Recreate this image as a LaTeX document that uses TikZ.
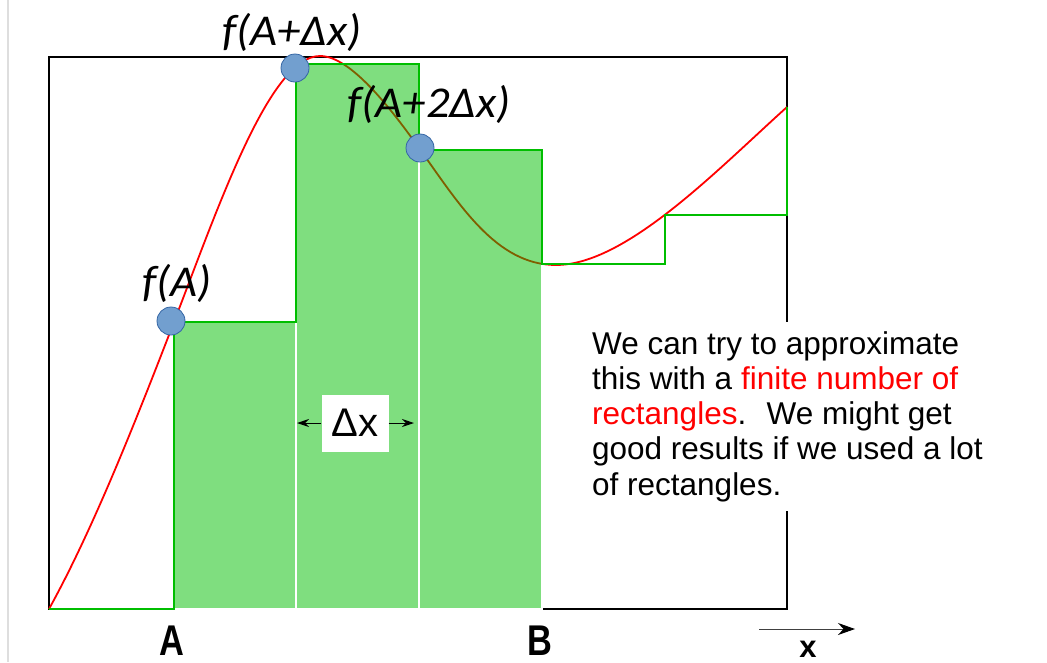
\documentclass[tikz,border=0pt]{standalone}
\usepackage{fontspec}
\setmainfont{Liberation Sans}
\newfontfamily\calibri{Carlito}
\usepackage{graphicx}
\usetikzlibrary{arrows.meta}
\definecolor{stepgreen}{RGB}{0,190,0}
\definecolor{dotblue}{RGB}{114,159,207}
\definecolor{dotedge}{RGB}{52,101,164}

\begin{document}
\begin{tikzpicture}[x=1pt, y=-1pt, >=Stealth,
  bar/.style={fill=stepgreen, fill opacity=0.5, draw=white, line width=1.5pt},
  stepline/.style={draw=stepgreen, line width=2.2pt},
  curve/.style={draw=red, line width=1.8pt},
  pt/.style={circle, fill=dotblue, draw=dotedge, line width=0.8pt, minimum size=28pt, inner sep=0pt},
  flab/.style={inner sep=0pt, font=\calibri\itshape\fontsize{44}{48}\selectfont},
  axlab/.style={anchor=base, inner sep=0pt, font=\bfseries\fontsize{43}{46}\selectfont},
  note/.style={anchor=north west, fill=white, inner xsep=6pt, inner ysep=9pt, align=left,
    font=\fontsize{31.5}{35.3}\selectfont}]
  \useasboundingbox (0,0) rectangle (1047,662);
  \draw[black!13, line width=2pt] (8,0) -- (8,662);
  \draw[line width=1.2pt] (49,57) rectangle (787,609);
  \draw[curve] (49,609) .. controls (91,533) and (132,431) .. (174,322)
    .. controls (219,205) and (270,56) .. (320,56)
    .. controls (350,56) and (389,106) .. (419,148)
    .. controls (459,204) and (496,265) .. (556,265)
    .. controls (626,265) and (717,170) .. (787,107);
  \foreach \l/\r/\t in {174/296/322, 296/419/64, 419/542/150}
    \draw[bar] (\l,609) rectangle (\r,\t);
  \draw[stepline] (49,609) -| (174,322) -| (296,64) -| (419,150) -| (542,264) -| (665,215) -| (787,107);
  \node[pt] (pa) at (171,321) {};
  \node[pt] (pb) at (295,68) {};
  \node[pt] (pc) at (420,148) {};
  \node[flab] (fa) at (177,283) {\scalebox{1.06}[1]{f(A)}};
  \node[flab] (fb) at (292,32) {\scalebox{1.06}[1]{f(A+Δx)}};
  \node[flab] (fc) at (429,104) {\scalebox{1.06}[1]{f(A+2Δx)}};
  \node[note] (txt) at (586,322) {We can try to approximate\\
    this with a \textcolor{red}{finite number of}\\
    \textcolor{red}{rectangles}.~ We might get\\
    good results if we used a lot\\
    of rectangles.};
  \node[fill=white, minimum width=67pt, minimum height=57pt, inner sep=0pt,
    font=\fontsize{40}{44}\selectfont] (dx) at (355,423) {Δx};
  \coordinate (dl) at (297,423);
  \coordinate (dr) at (414,423);
  \draw[-{Stealth[length=12pt, width=8pt]}, line width=1pt] (dx) -- (dl);
  \draw[-{Stealth[length=12pt, width=8pt]}, line width=1pt] (dx) -- (dr);
  \node[axlab] (la) at (171.5,655) {\scalebox{0.8}[1]{A}};
  \node[axlab] (lb) at (540,655) {\scalebox{0.8}[1]{B}};
  \node[axlab, font=\bfseries\fontsize{31}{34}\selectfont] (lx) at (808,657) {x};
  \coordinate (x0) at (759,629);
  \coordinate (x1) at (855,629);
  \draw[-{Stealth[length=17pt, width=12pt, black]}, black!75, line width=1pt] (x0) -- (x1);
\end{tikzpicture}
\end{document}
